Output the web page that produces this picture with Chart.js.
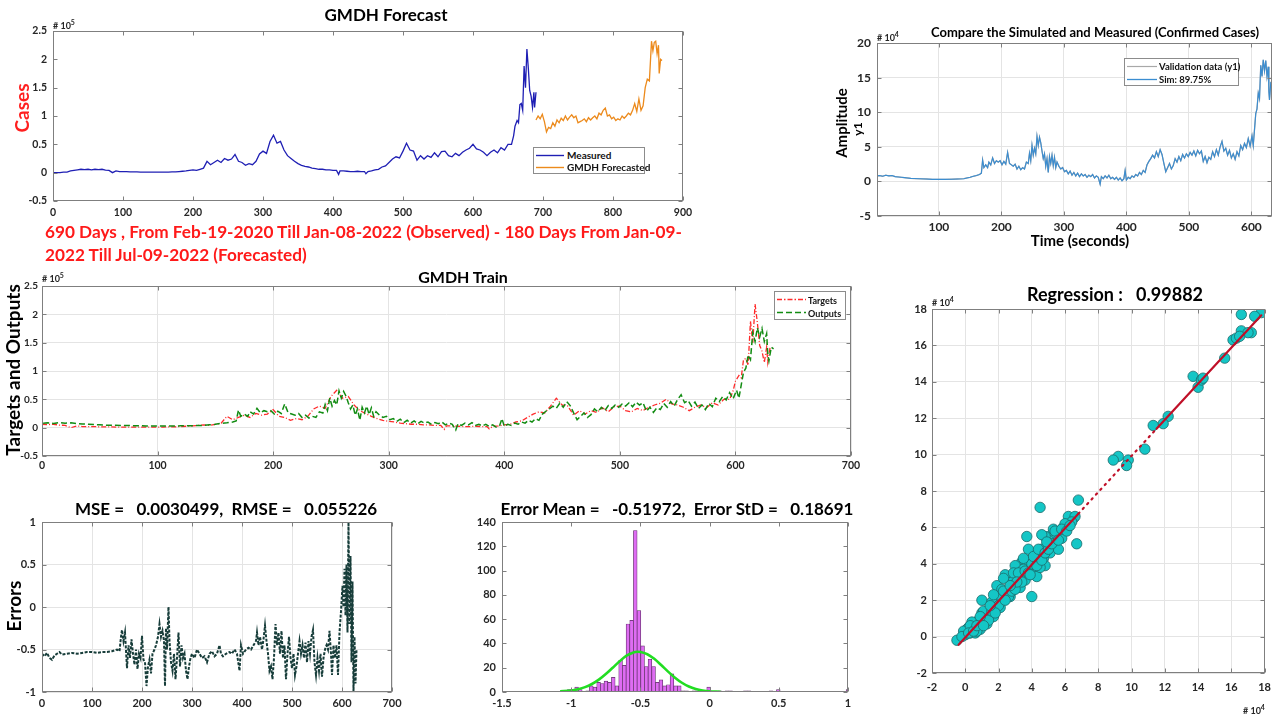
<!DOCTYPE html>
<html><head><meta charset="utf-8">
<script src="https://cdn.jsdelivr.net/npm/chart.js@4.4.0/dist/chart.umd.min.js"></script>
<style>
body{margin:0;width:1279px;height:717px;background:#fff;position:relative;overflow:hidden;font-family:Lato,'Noto Sans',sans-serif;}
#charts{position:absolute;left:0;top:0;width:1279px;height:717px;z-index:0;}
.t{position:absolute;font-weight:bold;white-space:pre;color:#000;line-height:1;z-index:2;}
.c{transform:translate(-50%,-50%);}
.r{transform:translate(-50%,-50%) rotate(-90deg);}
.exp{position:absolute;font-weight:bold;color:#262626;font-size:9px;line-height:1;z-index:2;white-space:pre;}
.exp sup{font-size:7px;vertical-align:4px;}
.leg{position:absolute;border:1px solid #8c8c8c;background:#fff;z-index:2;box-sizing:border-box;}
.lt{position:absolute;font-weight:bold;color:#111;line-height:1;white-space:pre;z-index:3;transform:translateY(-50%);}
svg.ln{position:absolute;z-index:3;overflow:visible;}
</style></head>
<body>
<div id="charts"></div>

<!-- Panel A -->
<div class="t c" style="left:386px;top:14px;font-size:17px">GMDH Forecast</div>
<div class="exp" style="left:53px;top:19px"># 10<sup>5</sup></div>
<div class="t r" style="left:21px;top:108px;font-size:19px;color:#ff1f1f">Cases</div>
<div class="t" style="left:45px;top:220px;font-size:17.2px;line-height:23px;color:#ff1a1a">690 Days , From Feb-19-2020 Till Jan-08-2022 (Observed) - 180 Days From Jan-09-<br>2022 Till Jul-09-2022 (Forecasted)</div>
<div class="leg" style="left:533px;top:147px;width:112px;height:27px"></div>
<svg class="ln" style="left:536px;top:154px" width="28" height="3"><line x1="0" y1="1.5" x2="28" y2="1.5" stroke="#1f1fb4" stroke-width="1.4"/></svg>
<div class="lt" style="left:567px;top:155px;font-size:10px">Measured</div>
<svg class="ln" style="left:536px;top:166px" width="28" height="3"><line x1="0" y1="1.5" x2="28" y2="1.5" stroke="#ec8a1c" stroke-width="1.4"/></svg>
<div class="lt" style="left:567px;top:167px;font-size:10px">GMDH Forecasted</div>

<!-- Panel B -->
<div class="t c" style="left:1095px;top:32px;font-size:13px">Compare the Simulated and Measured (Confirmed Cases)</div>
<div class="exp" style="left:877px;top:31px"># 10<sup>4</sup></div>
<div class="t r" style="left:841px;top:123px;font-size:15px">Amplitude</div>
<div class="t r" style="left:858px;top:129px;font-size:12px">y1</div>
<div class="t c" style="left:1080px;top:240px;font-size:15px">Time (seconds)</div>
<div class="leg" style="left:1124px;top:58px;width:115px;height:28px"></div>
<svg class="ln" style="left:1127px;top:65px" width="30" height="3"><line x1="0" y1="1.5" x2="30" y2="1.5" stroke="#a8a8a8" stroke-width="1.2"/></svg>
<div class="lt" style="left:1159px;top:66.5px;font-size:9.5px">Validation data (y1)</div>
<svg class="ln" style="left:1127px;top:78px" width="30" height="3"><line x1="0" y1="1.5" x2="30" y2="1.5" stroke="#3a8dd1" stroke-width="1.3"/></svg>
<div class="lt" style="left:1159px;top:80px;font-size:9.5px">Sim: 89.75%</div>

<!-- Panel C -->
<div class="t c" style="left:463px;top:277px;font-size:16px">GMDH Train</div>
<div class="exp" style="left:42px;top:272px"># 10<sup>5</sup></div>
<div class="t r" style="left:12px;top:370px;font-size:19px">Targets and Outputs</div>
<div class="leg" style="left:774px;top:291px;width:72px;height:29px"></div>
<svg class="ln" style="left:777px;top:298px" width="29" height="3"><line x1="0" y1="1.5" x2="29" y2="1.5" stroke="#ff2a2a" stroke-width="1.5" stroke-dasharray="5,2,1.5,2"/></svg>
<div class="lt" style="left:808px;top:299.5px;font-size:9px">Targets</div>
<svg class="ln" style="left:777px;top:311px" width="29" height="3"><line x1="0" y1="1.5" x2="29" y2="1.5" stroke="#128c12" stroke-width="1.5" stroke-dasharray="6,3"/></svg>
<div class="lt" style="left:808px;top:312.5px;font-size:9px">Outputs</div>

<!-- Panel D -->
<div class="t c" style="left:226px;top:508px;font-size:17px">MSE =   0.0030499,  RMSE =   0.055226</div>
<div class="t r" style="left:13px;top:606px;font-size:19px">Errors</div>

<!-- Panel E -->
<div class="t c" style="left:677px;top:508px;font-size:17px">Error Mean =   -0.51972,  Error StD =   0.18691</div>

<!-- Panel F -->
<div class="t c" style="left:1115px;top:294px;font-size:18px">Regression :   0.99882</div>
<div class="exp" style="left:932px;top:296px"># 10<sup>4</sup></div>
<div class="exp" style="left:1243px;top:704px"># 10<sup>4</sup></div>

<script>
// ---------- DATA ----------
// Panel A: measured daily cases (x 10^5) by day index
const measuredDays = [
 0,5,10,15,20,25,30,35,40,45,
 50,55,60,65,70,75,80,85,90,95,
 100,105,110,115,120,125,130,135,140,145,
 150,155,160,165,170,175,180,185,190,195,
 200,205,210,215,220,225,230,235,240,245,
 250,255,260,265,270,275,280,285,290,295,
 300,305,310,315,320,325,330,335,340,345,
 350,355,360,365,370,375,380,385,390,395,
 400,405,408,410,415,420,425,430,435,440,
 445,447,450,455,460,465,470,475,480,485,
 490,495,500,505,510,515,520,525,530,535,
 540,545,550,555,560,565,570,575,580,585,
 590,595,600,605,610,615,620,625,630,635,
 640,645,650,655,658,660,663,665,667,669,
 671,673,675,677,679,681,683,685,687,688,
 690];
const measuredCases = [
 0.00,0.00,0.00,0.01,0.01,0.03,0.04,0.05,0.06,0.055,
 0.06,0.05,0.06,0.055,0.06,0.045,0.04,0.00,0.03,0.02,
 0.02,0.02,0.015,0.015,0.015,0.01,0.01,0.01,0.01,0.01,
 0.01,0.01,0.01,0.01,0.015,0.015,0.02,0.025,0.03,0.04,
 0.05,0.04,0.06,0.08,0.2,0.14,0.18,0.22,0.18,0.25,
 0.22,0.24,0.32,0.2,0.18,0.13,0.16,0.14,0.2,0.33,
 0.38,0.34,0.55,0.66,0.52,0.55,0.4,0.3,0.25,0.2,
 0.16,0.13,0.11,0.1,0.08,0.07,0.06,0.06,0.05,0.05,
 0.04,0.04,-0.03,0.03,0.03,0.025,0.02,0.02,0.025,0.02,
 0.02,-0.02,0.02,0.03,0.05,0.06,0.1,0.12,0.18,0.24,
 0.28,0.26,0.38,0.52,0.4,0.38,0.22,0.3,0.24,0.3,
 0.27,0.35,0.28,0.37,0.38,0.3,0.28,0.34,0.3,0.36,
 0.4,0.43,0.5,0.42,0.4,0.36,0.3,0.36,0.4,0.35,
 0.44,0.4,0.5,0.5,0.65,0.82,0.92,0.88,1.2,1.22,
 1.1,1.88,1.5,2.18,1.85,1.45,1.35,1.15,1.42,1.15,
 1.42];
// Panel A: GMDH forecast (x 10^5)
const forecastDays = [
 690,693,696,699,702,705,708,711,714,717,
 720,723,726,729,732,735,738,741,744,747,
 750,753,756,759,762,765,768,771,774,777,
 780,783,786,789,792,795,798,801,804,807,
 810,813,816,819,822,825,828,831,834,837,
 840,843,846,849,852,855,857,859,861,863,
 865,866,868,870];
const forecastCases = [
 0.93,1.0,0.95,1.03,0.9,0.72,0.8,0.78,0.88,0.82,
 0.93,0.88,0.96,0.92,1.0,0.93,0.98,1.02,0.97,1.0,
 0.88,0.9,0.92,0.95,0.9,0.97,0.93,0.97,1.0,0.95,
 1.05,1.02,1.1,1.14,1.0,1.02,0.95,0.98,0.92,0.95,
 0.93,1.0,0.96,1.0,1.05,1.02,1.1,1.22,1.08,1.3,
 1.1,1.18,1.5,1.65,1.62,2.32,2.15,2.3,2.32,2.1,
 2.25,1.75,2.0,1.98];
// Training-period offset (training series starts at observed day 60)
const trainStartDay = 60;
// Simulated / model outputs (x 10^4) on the training time axis
const simDays = [
 1,5,10,15,20,25,30,35,40,45,
 50,55,60,70,80,90,100,110,120,130,
 140,145,150,155,160,165,168,170,172,175,
 178,180,183,186,189,192,195,198,201,204,
 207,210,213,216,219,222,225,228,231,234,
 237,240,243,245,247,249,251,253,255,257,
 259,261,263,265,267,269,271,273,275,277,
 279,281,283,285,287,289,292,295,298,301,
 304,307,310,313,316,319,322,325,328,331,
 334,337,340,343,346,349,352,355,358,360,
 363,366,369,372,375,378,381,384,387,390,
 393,396,398,400,403,406,409,412,415,418,
 421,424,427,430,433,436,439,442,445,448,
 451,454,457,460,463,466,469,472,475,478,
 481,484,487,490,493,496,499,502,505,508,
 511,514,517,520,523,526,529,532,535,538,
 541,544,547,550,553,556,559,562,565,568,
 571,574,577,580,583,586,589,592,595,598,
 601,603,605,607,609,611,613,615,617,619,
 621,623,625,627,628,629,631,633];
const simCases = [
 0.8,0.85,0.75,0.9,0.8,0.85,0.7,0.65,0.6,0.55,
 0.5,0.45,0.42,0.38,0.35,0.3,0.3,0.3,0.32,0.35,
 0.4,0.5,0.6,0.75,0.85,1.0,1.2,3.1,2.0,2.4,
 2.0,2.8,2.4,3.4,2.6,3.0,2.8,3.0,2.4,2.9,
 2.5,4.2,2.6,2.4,2.2,2.5,1.8,2.2,1.7,2.0,
 1.8,2.8,2.6,4.1,3.0,5.2,3.8,4.8,4.0,6.5,
 5.2,6.4,5.6,4.4,3.3,4.0,2.2,3.3,1.3,3.6,
 2.6,3.8,2.3,3.5,2.0,2.8,2.2,1.8,2.0,1.4,
 1.6,1.1,1.5,0.9,1.3,0.8,1.2,0.7,1.1,0.8,
 1.0,0.6,0.9,0.7,1.0,0.5,0.8,0.6,-0.4,0.7,
 0.4,0.8,0.5,0.9,0.4,0.6,0.3,0.6,0.2,0.5,
 0.1,0.4,1.6,0.2,0.6,0.4,0.8,0.6,1.0,0.8,
 1.3,1.0,1.6,1.3,2.4,2.9,3.3,3.8,3.4,4.3,
 3.6,4.6,3.9,2.6,1.4,2.0,2.6,1.8,2.3,3.3,
 2.8,3.6,3.0,3.9,3.4,4.0,3.6,4.2,3.8,4.4,
 3.7,4.5,4.0,4.4,2.9,3.6,2.7,3.5,3.2,4.3,
 3.6,4.6,3.8,5.0,5.8,4.4,4.8,3.8,4.5,3.4,
 4.0,3.2,4.3,3.7,5.2,4.6,5.5,4.9,6.2,5.1,
 6.6,5.2,7.5,9.8,10.5,12.8,12.0,16.8,15.2,17.6,
 16.0,17.5,15.2,16.6,13.0,11.8,14.2,13.9];
// Panel D: training errors
const errorDays = [
 0,5,10,15,20,25,30,35,40,50,
 60,70,80,90,100,110,120,130,140,150,
 155,158,160,163,166,170,173,176,179,182,
 185,188,191,194,197,200,203,206,209,212,
 215,218,221,225,228,232,235,238,241,244,
 246,248,250,253,255,258,261,264,267,270,
 273,276,279,282,285,288,291,294,297,300,
 305,310,315,320,325,330,335,340,345,350,
 355,358,362,368,375,380,385,390,395,398,
 402,408,413,418,423,428,430,433,436,440,
 443,446,449,452,455,458,461,464,467,470,
 473,476,479,482,485,488,491,494,497,500,
 503,506,509,512,515,518,521,524,527,530,
 533,536,539,542,545,548,551,554,557,560,
 563,566,569,572,575,578,580,583,586,589,
 592,595,598,601,603,605,607,609,611,613,
 615,617,619,621,623,625,627,629,630];
const errorValues = [
 -0.55,-0.58,-0.54,-0.6,-0.62,-0.57,-0.55,-0.53,-0.56,-0.55,
 -0.54,-0.55,-0.54,-0.53,-0.53,-0.54,-0.53,-0.53,-0.52,-0.5,
 -0.52,-0.35,-0.27,-0.4,-0.3,-0.72,-0.45,-0.6,-0.38,-0.55,
 -0.68,-0.5,-0.73,-0.55,-0.6,-0.34,-0.62,-0.65,-0.93,-0.7,
 -0.62,-0.78,-0.55,-0.5,-0.45,-0.35,-0.2,-0.35,-0.28,-0.4,
 -0.93,-0.25,-0.5,0.0,-0.4,-0.65,-0.75,-0.55,-0.85,-0.6,
 -0.3,-0.7,-0.45,-0.6,-0.55,-0.75,-0.85,-0.7,-0.6,-0.55,
 -0.6,-0.5,-0.55,-0.6,-0.58,-0.65,-0.55,-0.52,-0.58,-0.55,
 -0.45,-0.55,-0.58,-0.55,-0.53,-0.55,-0.5,-0.55,-0.75,-0.45,
 -0.55,-0.5,-0.48,-0.5,-0.45,-0.4,-0.3,-0.45,-0.35,-0.5,
 -0.38,-0.22,-0.4,-0.55,-0.75,-0.7,-0.85,-0.6,-0.2,-0.45,
 -0.3,-0.55,-0.28,-0.6,-0.45,-0.85,-0.55,-0.35,-0.6,-0.72,
 -0.55,-0.8,-0.7,-0.55,-0.4,-0.55,-0.45,-0.6,-0.42,-0.65,
 -0.4,-0.55,-0.35,-0.27,-0.65,-0.8,-0.6,-0.75,-0.55,-0.82,
 -0.6,-0.5,-0.45,-0.5,-0.28,-0.55,-0.8,-0.45,-0.6,-0.45,
 -0.8,-0.3,-0.05,0.25,0.0,0.45,-0.1,0.5,-0.3,1.0,
 -0.2,0.6,-0.65,0.3,-1.0,-0.35,-0.9,-0.5,-0.5];
// Panel E: error histogram (first bin centre, bin width, counts)
const histStart = -1.014;
const histWidth = 0.0265;
const histCounts = [
 2,0,4,2,0,1,5,4,8,7,
 9,8,12,5,26,22,56,59,133,67,
 38,21,27,21,8,10,5,6,15,5,
 5,1,1,0,1,1,0,1,4,0,
 0,1,0,1,1,0,0,0,1,1,
 0,0,0,0,0,1,0,2,0,0,
 0,0,0,0,0,0,0,0,0,0,
 0,0,0,0,0,0,2];
// Panel E: fitted normal curve
const fitX = [-1.08,-1.0,-0.95,-0.9,-0.85,-0.8,-0.75,-0.7,-0.65,-0.6,-0.55,-0.52,-0.5,-0.45,-0.4,-0.35,-0.3,-0.25,-0.2,-0.15,-0.1,-0.05,0.0,0.05,0.08];
const fitY = [0.6,1.2,2.3,4.0,6.6,10.2,14.8,20.0,25.3,29.9,32.6,33.1,32.9,31.1,27.3,22.2,16.8,11.8,7.6,4.5,2.5,1.3,0.6,0.3,0.2];
// Panel F: regression targets vs outputs (x 10^4)
const regTargets = [17.8,17.4,16.6,16.6,17.2,17.0,16.1,16.3,16.5,15.6, 13.7,14.0,14.2,14.3,12.2,11.9,11.3,10.8,9.8,9.7, 9.2,8.9,6.8,6.7,6.5,6.2,6.6,6.4,4.5,3.7, 4.0,1.0,1.9,5.9,5.5,5.4,5.7,5.2,5.0,4.8, 4.9,4.6,4.7,4.8,4.4,4.2,4.1,4.2,3.8,3.6, 3.4,3.3,3.5,3.2,3.0,2.9,2.8,3.1,2.6,2.4, 2.3,2.5,2.2,2.0,1.9,1.8,1.6,1.5,1.4,1.2, 1.0,1.0,0.8,0.8,0.6,0.5,0.4,0.3,0.2,0.1, 0.0,-0.1,0.6,0.4,1.3,1.7,2.1,2.7,3.6,4.3, 4.5,5.1,5.6,-0.5,-0.2,3.9,3.7,3.0,4.6,5.3, 5.8,6.0,2.9,2.2,1.7,0.9,1.2,3.5,3.3,
 0.3,0.7,1.1,1.4,1.6,2.0,2.3,2.6,2.8,3.0, 3.2,3.4,3.6,3.8,4.0,4.1,4.3,4.4,4.6,4.8, 5.0,5.2,5.4,5.6,5.8,6.1,6.3,2.4,1.8,0.9, 3.9,4.9,3.1,2.7,1.5,0.2,0.5,0.7,1.1,3.5];
const regOutputs = [17.8,17.6,17.7,16.8,16.7,16.7,16.3,16.4,16.5,15.3, 14.3,13.7,14.1,14.2,12.1,11.7,11.6,10.3,9.7,9.4, 9.9,9.7,7.5,5.1,6.5,6.6,6.6,6.3,7.1,5.5, 2.2,2.0,2.8,6.0,5.5,5.2,5.8,5.6,5.3,5.5, 4.9,4.8,4.3,3.9,4.4,4.1,3.7,3.5,4.8,4.0, 4.1,3.7,3.4,3.2,3.3,2.9,3.0,2.8,2.6,3.4, 3.2,2.3,2.0,2.2,1.6,1.8,1.9,1.2,1.5,1.1, 0.9,1.3,0.6,0.9,0.5,0.7,0.4,0.2,0.5,0.4, 0.1,0.3,0.2,0.8,0.7,1.1,1.6,2.2,3.1,3.3, 3.8,4.6,4.8,-0.2,0.0,4.2,3.9,3.9,5.6,5.9, 5.4,6.2,3.5,2.6,2.3,0.4,0.8,3.7,2.7,
 0.6,0.3,1.4,0.9,1.4,1.7,2.5,2.2,2.5,2.6, 3.5,3.0,3.6,3.5,4.0,4.4,3.9,4.8,4.2,4.6, 4.8,5.1,5.8,5.3,5.9,5.8,6.1,2.0,1.3,1.1, 3.4,5.2,3.0,2.8,1.7,0.2,0.3,0.6,0.6,4.3];
const regLineX = [-0.4, 6.8, 11.5, 17.8];
const regLineY = [-0.45, 6.75, 11.42, 17.65];

// ---------- HELPERS ----------
Chart.defaults.font.family = "Lato, 'Noto Sans', sans-serif";
Chart.defaults.font.weight = 'bold';
Chart.defaults.color = '#262626';

const boxPlugin = {
  id: 'mbox',
  afterDraw(chart) {
    const {ctx, chartArea: a, scales} = chart;
    ctx.save();
    ctx.strokeStyle = '#7f7f7f';
    ctx.lineWidth = 1;
    const l = Math.round(a.left) + 0.5, t = Math.round(a.top) + 0.5;
    const r = Math.round(a.right) - 0.5, b = Math.round(a.bottom) - 0.5;
    ctx.strokeRect(l, t, r - l, b - t);
    const L = 4;
    ctx.beginPath();
    scales.x.ticks.forEach((tk, i) => {
      const px = Math.round(scales.x.getPixelForTick(i)) + 0.5;
      ctx.moveTo(px, b); ctx.lineTo(px, b - L);
      ctx.moveTo(px, t); ctx.lineTo(px, t + L);
    });
    scales.y.ticks.forEach((tk, i) => {
      const py = Math.round(scales.y.getPixelForTick(i)) + 0.5;
      ctx.moveTo(l, py); ctx.lineTo(l + L, py);
      ctx.moveTo(r, py); ctx.lineTo(r - L, py);
    });
    ctx.stroke();
    ctx.restore();
  }
};

const fmt = v => String(Math.round(v * 1000) / 1000);

function axis(min, max, step, o) {
  o = o || {};
  const a = {
    type: 'linear', min: min, max: max, offset: false,
    ticks: {stepSize: step, font: {size: o.fs || 11, weight: 'bold'}, color: '#262626',
            padding: (o.pad === undefined ? 5 : o.pad), autoSkip: false, maxRotation: 0, callback: fmt},
    grid: {display: !!o.grid, color: '#e4e4e4', drawTicks: false, lineWidth: 1},
    border: {display: false}
  };
  if (o.tickVals) {
    const tv = o.tickVals;
    a.afterBuildTicks = s => { s.ticks = tv.map(v => ({value: v})); };
  }
  return a;
}

function place(box, plot, type, data, scales) {
  const cv = document.createElement('canvas');
  const W = box.r - box.l, H = box.b - box.t;
  cv.width = W; cv.height = H;
  cv.style.cssText = 'position:absolute;left:' + box.l + 'px;top:' + box.t + 'px;width:' + W + 'px;height:' + H + 'px;';
  document.getElementById('charts').appendChild(cv);
  scales.x.afterFit = s => { s.height = box.b - plot.b; };
  scales.y.afterFit = s => { s.width = plot.l - box.l; };
  return new Chart(cv, {
    type: type, data: data,
    options: {
      responsive: false, animation: false, events: [],
      layout: {padding: {left: 0, top: plot.t - box.t, right: box.r - plot.r, bottom: 0}},
      scales: scales,
      plugins: {legend: {display: false}, tooltip: {enabled: false}}
    },
    plugins: [boxPlugin]
  });
}

const pts = (xs, ys) => xs.map((x, i) => ({x: x, y: ys[i]}));
const lineDs = (data, color, w, dash, order) => ({data: data, borderColor: color, borderWidth: w, borderDash: dash || [], pointRadius: 0, tension: 0, fill: false, order: order || 0});

// ---------- PANEL A: GMDH Forecast ----------
place({l: 0, t: 0, r: 700, b: 224}, {l: 53, t: 31, r: 683, b: 201}, 'line',
  {datasets: [
    lineDs(pts(measuredDays, measuredCases), '#1f1fb4', 1.3),
    lineDs(pts(forecastDays, forecastCases), '#ec8a1c', 1.3)
  ]},
  {x: axis(0, 900, 100, {pad: 5, fs: 10.5}), y: axis(-0.5, 2.5, 0.5, {pad: 6, fs: 10.5})});

// ---------- PANEL B: Compare ----------
place({l: 845, t: 30, r: 1279, b: 232}, {l: 877, t: 43, r: 1272, b: 216}, 'line',
  {datasets: [
    lineDs(pts(simDays, simCases), '#a8a8a8', 1.3, [], 2),
    lineDs(pts(simDays, simCases), '#3a8dd1', 1.1, [], 1)
  ]},
  {x: axis(1, 633, 100, {grid: true, fs: 12, pad: 4, tickVals: [100, 200, 300, 400, 500, 600]}),
   y: axis(-5, 20, 5, {grid: true, fs: 12, pad: 6})});

// ---------- PANEL C: GMDH Train ----------
const trainTargets = pts(measuredDays.map(d => d - trainStartDay), measuredCases).filter(p => p.x >= 0);
const trainOutputs = pts(simDays, simCases.map(v => v / 10));
place({l: 0, t: 270, r: 870, b: 475}, {l: 42, t: 286, r: 851, b: 456}, 'line',
  {datasets: [
    lineDs(trainTargets, '#ff2a2a', 1.3, [5, 2, 1, 2], 2),
    lineDs(trainOutputs, '#128c12', 1.5, [6, 3], 1)
  ]},
  {x: axis(0, 700, 100, {grid: true, pad: 3, fs: 10.5}), y: axis(-0.5, 2.5, 0.5, {grid: true, pad: 4, fs: 10})});

// ---------- PANEL D: Errors ----------
place({l: 0, t: 500, r: 410, b: 717}, {l: 42, t: 522, r: 392, b: 692}, 'line',
  {datasets: [lineDs(pts(errorDays, errorValues), '#173d3a', 2, [3, 1.5])]},
  {x: axis(0, 700, 100, {grid: true, pad: 5}), y: axis(-1, 1, 0.5, {grid: true, pad: 6})});

// ---------- PANEL E: Histogram ----------
const histData = histCounts.map((c, i) => ({x: histStart + i * histWidth, y: c}));
place({l: 440, t: 500, r: 870, b: 717}, {l: 502, t: 522, r: 848, b: 692}, 'bar',
  {datasets: [
    {type: 'line', data: pts(fitX, fitY), borderColor: '#22dd22', borderWidth: 2.6, pointRadius: 0, tension: 0.3, fill: false, order: 0},
    {type: 'bar', data: histData, backgroundColor: '#de6cf2', borderColor: '#5a2b62', borderWidth: 0.7,
     barPercentage: 1, categoryPercentage: 1, order: 1}
  ]},
  {x: axis(-1.5, 1, 0.5, {pad: 5}), y: axis(0, 140, 20, {pad: 6})});

// ---------- PANEL F: Regression ----------
place({l: 880, t: 285, r: 1279, b: 717}, {l: 932, t: 309, r: 1267, b: 673}, 'scatter',
  {datasets: [
    {type: 'line', data: pts(regLineX, regLineY), borderColor: '#c01028', borderWidth: 2.2, pointRadius: 0, tension: 0,
     borderCapStyle: 'round', order: 0,
     segment: {borderDash: ctx => ctx.p0DataIndex === 1 ? [1.5, 5] : undefined}},
    {type: 'scatter', data: pts(regTargets, regOutputs), backgroundColor: '#14c6c6', borderColor: '#1c6a6a',
     borderWidth: 0.8, pointRadius: 5.2, order: 1}
  ]},
  {x: axis(-2, 18, 2, {grid: true, pad: 8}), y: axis(-2, 18, 2, {grid: true, pad: 5})});
</script>
</body></html>
